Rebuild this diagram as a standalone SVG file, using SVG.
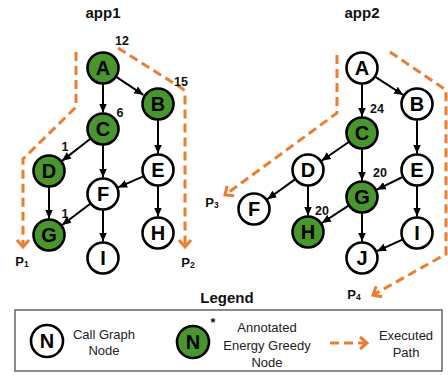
<svg xmlns="http://www.w3.org/2000/svg" width="448" height="375" viewBox="0 0 448 375">
<style>
.n{stroke:#000;stroke-width:2.6;fill:#fff}
.g{fill:#4a962e}
.lt{font-family:"Liberation Sans",Arial,sans-serif;font-weight:bold;font-size:20px;text-anchor:middle;fill:#000}
.num{font-family:"Liberation Sans",Arial,sans-serif;font-weight:bold;font-size:12.5px;text-anchor:middle;fill:#111}
.ttl{font-family:"Liberation Sans",Arial,sans-serif;font-weight:bold;font-size:15px;text-anchor:middle;fill:#111}
.lg{font-family:"Liberation Sans",Arial,sans-serif;font-size:13px;text-anchor:middle;fill:#222}
.e{stroke:#000;stroke-width:2;fill:none;marker-end:url(#ah)}
.p{stroke:#ed7d31;stroke-width:3;fill:none;stroke-dasharray:9,5;marker-end:url(#ch)}
.pl{font-family:"Liberation Sans",Arial,sans-serif;font-weight:bold;font-size:13px;text-anchor:middle;fill:#111}
</style>
<defs>
<marker id="ah" markerUnits="userSpaceOnUse" markerWidth="10" markerHeight="10" refX="9" refY="4" orient="auto" viewBox="0 0 10 8">
<path d="M0,0 L9,4 L0,8 z" fill="#000"/>
</marker>
<marker id="ch" markerUnits="userSpaceOnUse" markerWidth="14" markerHeight="16" refX="9" refY="7" orient="auto" viewBox="0 0 14 14" overflow="visible">
<polyline points="2,1 9,7 2,13" fill="none" stroke="#ed7d31" stroke-width="3"/>
</marker>
</defs>

<text class="ttl" x="103" y="18">app1</text>
<text class="ttl" x="362" y="18">app2</text>

<g id="paths">
<path class="p" d="M76,52 L76,107 L23,159 L23,247"/>
<path class="p" d="M118,48 L183,89 L185,92 L185,247"/>
<path class="p" d="M337,55 L337,113 L225,195"/>
<path class="p" d="M390,52 L446,90 L446,254 L373,295"/>
</g>

<g id="connectors">
<line class="e" x1="103" y1="84" x2="103" y2="112.5"/>
<line class="e" x1="116.3" y1="76.9" x2="143.3" y2="94.8"/>
<line class="e" x1="158" y1="120" x2="158" y2="153.5"/>
<line class="e" x1="90.4" y1="138.8" x2="62" y2="160.9"/>
<line class="e" x1="103" y1="145" x2="103" y2="177.5"/>
<line class="e" x1="49" y1="187" x2="49" y2="218.5"/>
<line class="e" x1="143.3" y1="176.4" x2="118.1" y2="187.4"/>
<line class="e" x1="158" y1="186" x2="158" y2="216.5"/>
<line class="e" x1="90.3" y1="203.7" x2="62.1" y2="225"/>
<line class="e" x1="103" y1="210" x2="103" y2="241.5"/>

<line class="e" x1="362" y1="84" x2="362" y2="116.5"/>
<line class="e" x1="375.4" y1="76.8" x2="403.2" y2="95"/>
<line class="e" x1="417" y1="120" x2="417" y2="153.5"/>
<line class="e" x1="348.8" y1="142" x2="321.6" y2="160.7"/>
<line class="e" x1="362" y1="149" x2="362" y2="180.5"/>
<line class="e" x1="295" y1="179.4" x2="267.4" y2="199.3"/>
<line class="e" x1="308" y1="186" x2="308" y2="215.5"/>
<line class="e" x1="402.6" y1="177" x2="376.8" y2="189.7"/>
<line class="e" x1="417" y1="186" x2="417" y2="216.5"/>
<line class="e" x1="348.6" y1="205.7" x2="321.9" y2="223"/>
<line class="e" x1="362" y1="213" x2="362" y2="241.5"/>
<line class="e" x1="402.4" y1="239.6" x2="377" y2="251.2"/>
</g>

<g id="app1-A"><circle class="n g" cx="103" cy="68" r="15.5"/><text class="lt" x="103" y="75">A</text></g>
<g id="app1-B"><circle class="n g" cx="158" cy="104" r="15.5"/><text class="lt" x="158" y="111">B</text></g>
<g id="app1-C"><circle class="n g" cx="103" cy="129" r="15.5"/><text class="lt" x="103" y="136">C</text></g>
<g id="app1-D"><circle class="n g" cx="49" cy="171" r="15.5"/><text class="lt" x="49" y="178">D</text></g>
<g id="app1-E"><circle class="n" cx="158" cy="170" r="15.5"/><text class="lt" x="158" y="177">E</text></g>
<g id="app1-F"><circle class="n" cx="103" cy="194" r="15.5"/><text class="lt" x="103" y="201">F</text></g>
<g id="app1-G"><circle class="n g" cx="49" cy="235" r="15.5"/><text class="lt" x="49" y="242">G</text></g>
<g id="app1-H"><circle class="n" cx="158" cy="233" r="15.5"/><text class="lt" x="158" y="240">H</text></g>
<g id="app1-I"><circle class="n" cx="103" cy="258" r="15.5"/><text class="lt" x="103" y="265">I</text></g>

<g id="app2-A"><circle class="n" cx="362" cy="68" r="15.5"/><text class="lt" x="362" y="75">A</text></g>
<g id="app2-B"><circle class="n" cx="417" cy="104" r="15.5"/><text class="lt" x="417" y="111">B</text></g>
<g id="app2-C"><circle class="n g" cx="362" cy="133" r="15.5"/><text class="lt" x="362" y="140">C</text></g>
<g id="app2-D"><circle class="n" cx="308" cy="170" r="15.5"/><text class="lt" x="308" y="177">D</text></g>
<g id="app2-E"><circle class="n" cx="417" cy="170" r="15.5"/><text class="lt" x="417" y="177">E</text></g>
<g id="app2-F"><circle class="n" cx="254" cy="209" r="15.5"/><text class="lt" x="254" y="216">F</text></g>
<g id="app2-G"><circle class="n g" cx="362" cy="197" r="15.5"/><text class="lt" x="362" y="204">G</text></g>
<g id="app2-H"><circle class="n g" cx="308" cy="232" r="15.5"/><text class="lt" x="308" y="239">H</text></g>
<g id="app2-I"><circle class="n" cx="417" cy="233" r="15.5"/><text class="lt" x="417" y="240">I</text></g>
<g id="app2-J"><circle class="n" cx="362" cy="258" r="15.5"/><text class="lt" x="362" y="265">J</text></g>

<g id="numbers">
<text class="num" x="122" y="45">12</text>
<text class="num" x="181" y="86">15</text>
<text class="num" x="120" y="117">6</text>
<text class="num" x="65" y="151">1</text>
<text class="num" x="65" y="218">1</text>
<text class="num" x="377" y="113">24</text>
<text class="num" x="380" y="177">20</text>
<text class="num" x="322" y="215">20</text>
</g>

<g id="path-labels">
<text class="pl" x="22" y="266">P<tspan font-size="8.5" dy="1">1</tspan></text>
<text class="pl" x="188" y="267">P<tspan font-size="8.5" dy="1">2</tspan></text>
<text class="pl" x="212" y="207">P<tspan font-size="8.5" dy="1">3</tspan></text>
<text class="pl" x="354" y="299">P<tspan font-size="8.5" dy="1">4</tspan></text>
</g>

<g id="legend">
<text class="ttl" x="227" y="303">Legend</text>
<rect x="15" y="310" width="427" height="61" fill="#fff" stroke="#666" stroke-width="1.5"/>
<circle cx="47" cy="341" r="16" fill="#fff" stroke="#000" stroke-width="2.6"/>
<text class="lt" x="47" y="348">N</text>
<text class="lg" x="104" y="339">Call Graph</text>
<text class="lg" x="104" y="355">Node</text>
<circle cx="193" cy="342" r="16" fill="#4a962e" stroke="#000" stroke-width="2.6"/>
<text class="lt" x="193" y="349">N</text>
<text class="num" x="213" y="327" font-size="11">*</text>
<text class="lg" x="267" y="332">Annotated</text>
<text class="lg" x="267" y="350">Energy Greedy</text>
<text class="lg" x="267" y="367">Node</text>
<path d="M330,343 L367,343" stroke="#ed7d31" stroke-width="3" fill="none" stroke-dasharray="9,5" marker-end="url(#ch)"/>
<text class="lg" x="406" y="340">Executed</text>
<text class="lg" x="406" y="357">Path</text>
</g>
</svg>
